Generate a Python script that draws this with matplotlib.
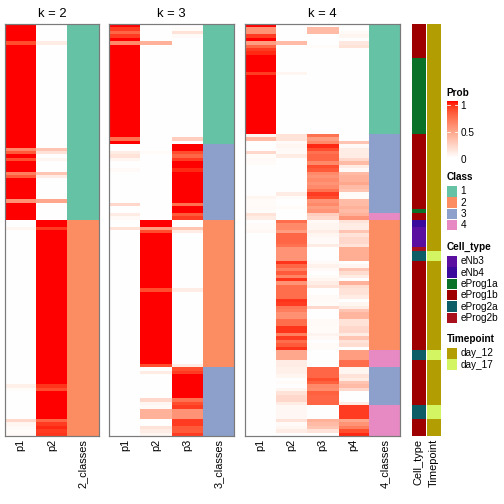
import numpy as np
import matplotlib
matplotlib.use('Agg')
import matplotlib.pyplot as plt
from matplotlib.colors import ListedColormap
from matplotlib.patches import Rectangle

plt.rcParams['font.family'] = ['Liberation Sans', 'DejaVu Sans']


def expand(runs):
    # (value, count) pairs or single values -> per-row list
    out = []
    for r in runs:
        if isinstance(r, tuple):
            out += [r[0]] * r[1]
        else:
            out.append(r)
    return out


N = 120

# ---- k = 2 ----
k2_p1 = expand([(1, 5), .85, (1, 30), .6, .8, 1, .85, (1, 3), .65, .8, (1, 6), .55, (1, 5),
                (0, 2), .05, (0, 45), .08, .02, (0, 8), .2, .05, .03, .02, .03])
k2_p2 = expand([(0, 5), .1, (0, 30), .3, .15, 0, .05, (0, 3), .3, .1, (0, 6), .45, (0, 5),
                (1, 2), .9, (1, 45), .92, .85, (1, 8), .75, .9, .95, .9, .92])
k2_class = expand([(1, 57), (2, 63)])

# ---- k = 3 ----
k3_p1 = expand([1, .9, .75, .9, 1, .6, (1, 27), .7, 1,
                (0, 2), .1, .15, .05, (0, 2), .03, (0, 9), .2, (0, 2), .1, .03,
                (0, 2), .15, (0, 60)])
k3_p2 = expand([(0, 5), .4, (0, 31), .02, (0, 19),
                (1, 2), .5, .85, (1, 16), .85, (1, 21), .85,
                0, .1, (0, 7), .2, .05, .03, (.4, 3), (0, 2), .15, .1, .05])
k3_p3 = expand([0, .02, .15, .03, (0, 29), .25, 0,
                (1, 2), .85, .75, .9, (1, 2), .95, (1, 9), .7, (1, 2), .8, .9,
                (0, 2), .3, .1, (0, 16), .1, (0, 21), .1,
                .85, .9, (1, 7), .7, .85, .9, (.55, 3), (.9, 2), .8, .8, .9])
k3_class = expand([(1, 35), (3, 22), (2, 43), (3, 20)])

# ---- k = 4 ----
k4_p1 = expand([1, (.55, 2), .9, 1, .5, .75, .9, .95, (1, 5), .9, (1, 17),
                .05, .35, (0, 3), .2, .02, .03, .02, (0, 9), .05, (.02, 2), .03, .02,
                .15, .1,
                0, (.02, 2), .04, (0, 59)])
k4_p2 = expand([(0, 5), .35, (0, 8), .05, (0, 17),
                .15, .15, .03, .05, .03, .03, .1, (0, 10), .1, .02, 0, 0, .02, 0,
                0, 0,
                .72, .6, .6, .5, .75, .75, .75, .7, (.55, 4), .92, .75, .65, .8, .62, .92,
                .55, .72, .72, .72, .72, .92, .9, .68, .65, .56, .56, .72, .72, .92, .92,
                .65, .9, .72, .8, .92,
                (.45, 3), (.1, 2),
                .08, .08, .05, 0, .02, 0, .05, .15, .2, .2, .1,
                (.04, 4), .15, .03, .05, .1, 0])
k4_p3 = expand([0, (.35, 2), (0, 3), .02, (0, 25),
                .7, .5, .6, .95, .85, .7, .75, .75, .6, .85, .8, .6, .55, .6, .55, .6, .7,
                .9, .85, .55, .6, .5, .55,
                .25, .2,
                .03, .05, .05, .1, .05, .03, .03, .1, (0, 4), .03, .07, .03, 0, .02, .05,
                .1, .15, 0, 0, .03, .03, .02, .2, 0, 0, 0, .03, .03, .02, .02,
                .06, .03, 0, .02, .02,
                (0, 5),
                .75, .75, .75, .85, .78, .6, .58, .78, .75, .75, .75,
                (0, 4), .4, .35, .3, .15, 0])
k4_p4 = expand([0, 0, .03, .05, 0, .12, .15, (0, 25),
                0, 0, .3, .03, .1, .1, .1, .2, .35, .1, .03, .35, .4, .4, .45, .35, .3,
                .02, .02, .35, .35, .4, .35,
                .4, .55,
                .15, .1, .1, .3, .15, .2, .2, .15, (.42, 4), 0, .05, .3, .18, .1, 0,
                .4, .18, .15, .15, .1, 0, .05, .1, .3, .38, .38, .15, .15, .2, .2,
                .1, .3, .15, .18, 0,
                (.5, 3), (.72, 2),
                .05, .05, .15, .1, .3, .35, .2, 0, 0, 0, .1,
                (.9, 4), .45, .55, .65, .85, .95])
k4_class = expand([(1, 32), (3, 23), (4, 2), (2, 38), (4, 5), (3, 11), (4, 9)])

# ---- annotations ----
cell_names = ['eNb3', 'eNb4', 'eProg1a', 'eProg1b', 'eProg2a', 'eProg2b']
cell_colors = ['#5A0FA0', '#3A0A9C', '#0A7128', '#9E0000', '#0D5D66', '#A8101C']
cell_type = expand([('eProg1b', 10), ('eProg1a', 22), ('eProg1b', 22), ('eProg1a', 1),
                    ('eProg1b', 2), ('eNb4', 2), ('eNb3', 6), ('eProg2b', 1), ('eProg2a', 3),
                    ('eProg1b', 26), ('eProg2a', 3), ('eProg1b', 13), ('eProg2a', 4),
                    ('eProg1b', 5)])
time_names = ['day_12', 'day_17']
time_colors = ['#B29D02', '#D4F562']
timepoint = expand([('day_12', 66), ('day_17', 3), ('day_12', 26), ('day_17', 3),
                    ('day_12', 13), ('day_17', 4), ('day_12', 5)])

class_names = ['1', '2', '3', '4']
class_colors = ['#66C2A5', '#FC8D62', '#8DA0CB', '#E78AC3']


# white -> red colour ramp interpolated in LAB space
M = np.array([[0.4124564, 0.3575761, 0.1804375],
              [0.2126729, 0.7151522, 0.0721750],
              [0.0193339, 0.1191920, 0.9503041]])
WP = np.array([0.95047, 1.0, 1.08883])


def srgb2lab(c):
    c = np.asarray(c, float)
    lin = np.where(c > 0.04045, ((c + 0.055) / 1.055) ** 2.4, c / 12.92)
    xyz = M @ lin / WP
    f = np.where(xyz > 216 / 24389, np.cbrt(xyz), (24389 / 27 * xyz + 16) / 116)
    return np.array([116 * f[1] - 16, 500 * (f[0] - f[1]), 200 * (f[1] - f[2])])


def lab2srgb(lab):
    L, a, b = lab
    fy = (L + 16) / 116
    f = np.array([fy + a / 500, fy, fy - b / 200])
    xyz = np.where(f ** 3 > 216 / 24389, f ** 3, (116 * f - 16) / (24389 / 27)) * WP
    lin = np.linalg.solve(M, xyz)
    c = np.where(lin > 0.0031308, 1.055 * np.clip(lin, 0, None) ** (1 / 2.4) - 0.055, 12.92 * lin)
    return np.clip(c, 0, 1)


lw_, lr_ = srgb2lab([1, 1, 1]), srgb2lab([1, 0, 0])
prob_cmap = ListedColormap([lab2srgb(lw_ + t * (lr_ - lw_)) for t in np.linspace(0, 1, 256)])
class_cmap = ListedColormap(class_colors)

W = 504
fig = plt.figure(figsize=(7, 7), dpi=72)


def add_ax(x0, y0, x1, y1):
    return fig.add_axes([x0 / W, 1 - y1 / W, (x1 - x0) / W, (y1 - y0) / W])


def style(ax, labels):
    ax.set_xticks(np.arange(len(labels)) + 0.5)
    ax.set_xticklabels(labels, rotation=90, fontsize=11)
    ax.set_yticks([])
    ax.tick_params(length=0, pad=3)


def panel(x0, x1, probs, classes, k):
    ax = add_ax(x0, 24, x1, 436)
    P = np.column_stack(probs)
    ax.imshow(P, cmap=prob_cmap, vmin=0, vmax=1, aspect='auto',
              interpolation='nearest', extent=(0, k, N, 0))
    ax.imshow(np.array(classes)[:, None], cmap=class_cmap, vmin=0.5, vmax=4.5,
              aspect='auto', interpolation='nearest', extent=(k, k + 1, N, 0))
    ax.set_xlim(0, k + 1)
    ax.set_ylim(N, 0)
    style(ax, ['p%d' % (i + 1) for i in range(k)] + ['%d_classes' % k])
    for s in ax.spines.values():
        s.set_color('#7a7a7a')
        s.set_linewidth(1.2)
    ax.set_title('k = %d' % k, fontsize=13, pad=7)


panel(5, 98.7, [k2_p1, k2_p2], k2_class, 2)
panel(109.3, 234, [k3_p1, k3_p2, k3_p3], k3_class, 3)
panel(245, 400, [k4_p1, k4_p2, k4_p3, k4_p4], k4_class, 4)

# annotation columns
for (x0, x1, vals, names, cols, lab) in [
        (412, 426, cell_type, cell_names, cell_colors, 'Cell_type'),
        (427, 441, timepoint, time_names, time_colors, 'Timepoint')]:
    ax = add_ax(x0, 24, x1, 436)
    idx = np.array([names.index(v) for v in vals])[:, None]
    ax.imshow(idx, cmap=ListedColormap(cols), vmin=-0.5, vmax=len(cols) - 0.5,
              aspect='auto', interpolation='nearest', extent=(0, 1, N, 0))
    ax.set_xlim(0, 1)
    ax.set_ylim(N, 0)
    style(ax, [lab])
    for s in ax.spines.values():
        s.set_visible(False)

# legends (drawn in pixel coordinates on an overlay)
lg = fig.add_axes([0, 0, 1, 1])
lg.set_xlim(0, W)
lg.set_ylim(W, 0)
lg.axis('off')

lx = 446.5
lg.text(lx, 93.5, 'Prob', fontsize=10, fontweight='bold', va='center')
grad = np.linspace(1, 0, 100)[:, None]
lg.imshow(grad, cmap=prob_cmap, vmin=0, vmax=1, aspect='auto',
          extent=(lx, lx + 11, 158.5, 102), interpolation='bilinear')
for v, t in [(1, '1'), (0.5, '0.5'), (0, '0')]:
    yy = 159 - 54 * v
    if v > 0:
        lg.plot([lx, lx + 3], [yy, yy], color='white', lw=0.8)
        lg.plot([lx + 8, lx + 11], [yy, yy], color='white', lw=0.8)
    lg.text(lx + 14, yy + 1, t, fontsize=10, va='center')
lg.set_xlim(0, W)
lg.set_ylim(W, 0)


def key(title, ty, names, cols, y0, pitch=11.3):
    lg.text(lx, ty, title, fontsize=10, fontweight='bold', va='center')
    for i, (n, c) in enumerate(zip(names, cols)):
        yy = y0 + i * pitch
        lg.add_patch(Rectangle((lx, yy), 10.5, 10.5, facecolor=c, edgecolor='none'))
        lg.text(lx + 14, yy + 5.5, n, fontsize=10, va='center')


key('Class', 177, class_names, class_colors, 186)
key('Cell_type', 246.5, cell_names, cell_colors, 256)
key('Timepoint', 338.5, time_names, time_colors, 348)

fig.savefig('out.png', dpi=72)
